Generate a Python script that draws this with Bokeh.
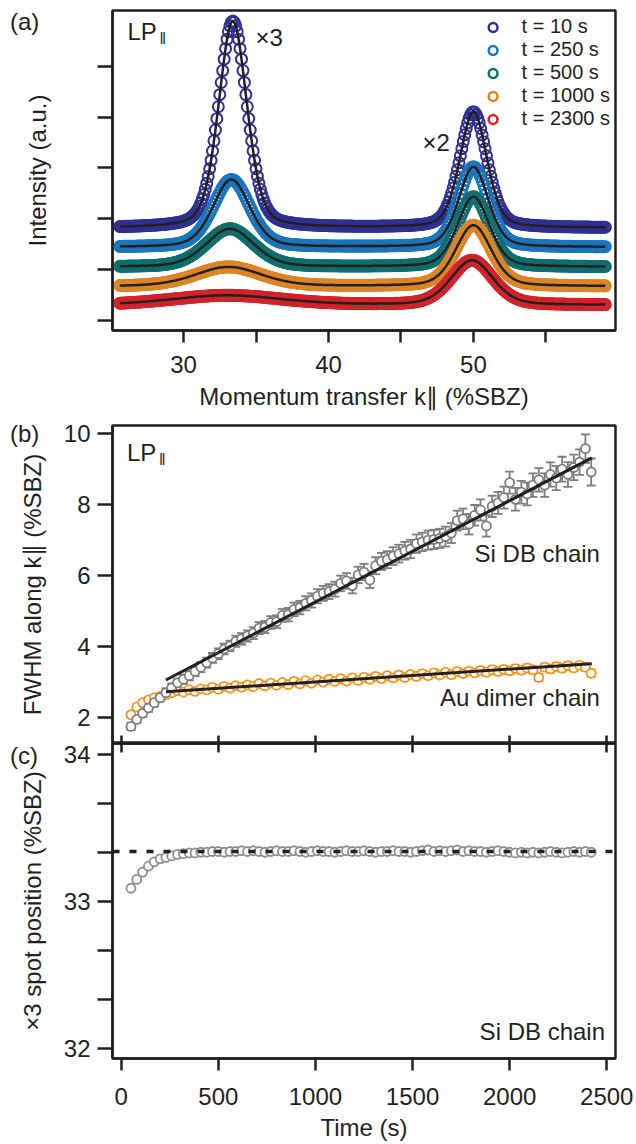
import numpy as np
from bokeh.plotting import figure
from bokeh.models import (ColumnDataSource, FixedTicker, LinearAxis, Label, Legend, LegendItem,
                          Span, Whisker, TeeHead, Range1d, Div)
from bokeh.layouts import column
from bokeh.embed import file_html
from bokeh.resources import INLINE
from bokeh.core.properties import value

FONT = "Liberation Sans"
INK = "#231f20"

# ---------------- panel (a): LEED line profiles (fit parameters)
labels_a = ["t = 10 s", "t = 250 s", "t = 500 s", "t = 1000 s", "t = 2300 s"]
colors_a = ["#2e3192", "#1b75bb", "#0e6e6e", "#dc8524", "#d2232a"]
baseline_a = [1.82, 1.44, 1.05, 0.67, 0.30]
x3_center = [33.4, 33.3, 33.2, 33.1, 33.0]
x3_amp = [4.07, 1.33, 0.75, 0.38, 0.19]
x3_fwhm = [2.3, 3.0, 3.9, 5.4, 9.0]
x2_center = [50.0, 50.0, 50.0, 50.0, 49.9]
x2_amp = [2.28, 1.58, 1.38, 1.20, 0.88]
x2_fwhm = [2.2, 2.4, 2.6, 2.9, 3.4]
k_first, k_last, k_step = 25.6, 59.1, 0.1
a_xticks = [30, 40, 50]
a_xminor = [35, 45, 55]
a_yticks = [0, 1, 2, 3, 4, 5]

# ---------------- panel (b): FWHM vs time
t_b = list(range(50, 2421, 30))
si_fwhm = [1.75, 1.95, 2.12, 2.27, 2.42, 2.56, 2.70, 2.84, 2.98, 3.08,
           3.18, 3.30, 3.42, 3.55, 3.68, 3.80, 3.93, 4.02, 4.15, 4.22,
           4.30, 4.38, 4.52, 4.55, 4.68, 4.70, 4.88, 4.90, 5.05, 5.10,
           5.22, 5.30, 5.42, 5.50, 5.55, 5.62, 5.78, 5.85, 5.72, 6.02,
           6.10, 5.88, 6.28, 6.40, 6.45, 6.55, 6.62, 6.70, 6.75, 6.90,
           6.95, 7.00, 7.02, 7.05, 7.10, 7.20, 7.55, 7.60, 7.45, 7.70,
           7.85, 7.40, 7.95, 8.05, 8.20, 8.62, 8.15, 8.35, 8.30, 8.55,
           8.70, 8.55, 8.85, 8.75, 9.00, 8.85, 9.05, 9.20, 9.58, 8.92]
si_err = [0.10, 0.10, 0.10, 0.11, 0.11, 0.11, 0.12, 0.12, 0.12, 0.13,
          0.13, 0.13, 0.14, 0.14, 0.14, 0.15, 0.15, 0.15, 0.16, 0.16,
          0.16, 0.17, 0.17, 0.17, 0.18, 0.18, 0.18, 0.19, 0.19, 0.19,
          0.20, 0.20, 0.20, 0.21, 0.21, 0.21, 0.22, 0.22, 0.22, 0.23,
          0.23, 0.23, 0.24, 0.24, 0.24, 0.25, 0.25, 0.25, 0.26, 0.26,
          0.26, 0.27, 0.27, 0.27, 0.28, 0.28, 0.28, 0.29, 0.29, 0.29,
          0.30, 0.30, 0.30, 0.31, 0.31, 0.31, 0.32, 0.32, 0.32, 0.33,
          0.33, 0.33, 0.34, 0.34, 0.35, 0.35, 0.36, 0.36, 0.40, 0.38]
au_fwhm = [2.08, 2.30, 2.42, 2.50, 2.56, 2.60, 2.64, 2.70, 2.76, 2.72,
           2.79, 2.74, 2.81, 2.78, 2.85, 2.80, 2.88, 2.83, 2.90, 2.86,
           2.92, 2.87, 2.96, 2.89, 2.97, 2.91, 2.99, 2.93, 3.02, 2.95,
           3.04, 2.97, 3.06, 3.00, 3.08, 3.02, 3.10, 3.03, 3.12, 3.05,
           3.14, 3.08, 3.16, 3.10, 3.18, 3.12, 3.20, 3.13, 3.22, 3.16,
           3.24, 3.18, 3.26, 3.20, 3.28, 3.21, 3.30, 3.24, 3.31, 3.26,
           3.33, 3.28, 3.35, 3.30, 3.36, 3.32, 3.38, 3.34, 3.40, 3.35,
           3.13, 3.42, 3.37, 3.44, 3.39, 3.46, 3.40, 3.47, 3.42, 3.25]
au_err = [0.08, 0.08, 0.07, 0.07, 0.07, 0.07, 0.07, 0.07, 0.07, 0.07,
          0.07, 0.07, 0.07, 0.07, 0.08, 0.08, 0.08, 0.08, 0.08, 0.08,
          0.08, 0.08, 0.08, 0.08, 0.08, 0.08, 0.08, 0.08, 0.08, 0.08,
          0.08, 0.08, 0.08, 0.08, 0.08, 0.08, 0.09, 0.09, 0.09, 0.09,
          0.09, 0.09, 0.09, 0.09, 0.09, 0.09, 0.09, 0.09, 0.09, 0.09,
          0.09, 0.09, 0.09, 0.09, 0.09, 0.09, 0.09, 0.09, 0.09, 0.09,
          0.10, 0.10, 0.10, 0.10, 0.10, 0.10, 0.10, 0.10, 0.10, 0.10,
          0.10, 0.10, 0.10, 0.10, 0.10, 0.10, 0.10, 0.10, 0.10, 0.10]
si_fit_t = [230, 2423]
si_fit_y = [3.06, 9.32]
au_fit_t = [230, 2423]
au_fit_y = [2.73, 3.52]
time_ticks = [0, 500, 1000, 1500, 2000, 2500]
b_yticks = [2, 4, 6, 8, 10]

# ---------------- panel (c): x3 spot position vs time
spot_pos = [33.09, 33.15, 33.20, 33.24, 33.27, 33.29, 33.30, 33.31, 33.32, 33.325,
            33.33, 33.33, 33.335, 33.335, 33.34, 33.34, 33.335, 33.34, 33.34, 33.345,
            33.34, 33.345, 33.34, 33.335, 33.34, 33.345, 33.34, 33.34, 33.345, 33.34,
            33.335, 33.34, 33.345, 33.34, 33.34, 33.335, 33.34, 33.345, 33.34, 33.34,
            33.345, 33.34, 33.335, 33.34, 33.34, 33.345, 33.34, 33.34, 33.335, 33.34,
            33.345, 33.35, 33.34, 33.345, 33.34, 33.345, 33.35, 33.34, 33.345, 33.34,
            33.34, 33.335, 33.34, 33.345, 33.34, 33.335, 33.33, 33.335, 33.33, 33.335,
            33.33, 33.335, 33.34, 33.335, 33.33, 33.335, 33.34, 33.335, 33.34, 33.335]
spot_ref = 33.34
c_yticks = [32, 33, 34]
c_yminor = [32 + 1 / 3, 32 + 2 / 3, 33 + 1 / 3, 33 + 2 / 3]

panel_letters = ["(a)", "(b)", "(c)"]


def style_axis(ax, tick_out, tick_in=0, label_size="24px", standoff=7):
    ax.axis_line_color = INK
    ax.axis_line_width = 2.5
    ax.major_tick_line_color = INK
    ax.major_tick_line_width = 2.5
    ax.minor_tick_line_color = INK
    ax.minor_tick_line_width = 2.5
    ax.major_tick_out = tick_out
    ax.major_tick_in = tick_in
    ax.minor_tick_out = tick_out
    ax.minor_tick_in = tick_in
    ax.major_label_text_font = FONT
    ax.major_label_text_font_size = label_size
    ax.major_label_text_color = INK
    ax.major_label_standoff = standoff
    ax.axis_label_text_font = FONT
    ax.axis_label_text_font_size = "24px"
    ax.axis_label_text_font_style = "normal"
    ax.axis_label_text_color = INK


def base_fig(h, xr, yr, top, bottom):
    p = figure(width=636, height=h, x_range=xr, y_range=yr,
               min_border_left=112, min_border_right=21,
               min_border_top=top, min_border_bottom=bottom,
               toolbar_location=None, output_backend="svg")
    p.xgrid.visible = False
    p.ygrid.visible = False
    p.outline_line_color = INK
    p.outline_line_width = 2.5
    p.background_fill_color = "white"
    p.border_fill_color = "white"
    return p


def txt(p, x, y, s, size="24px", align="left"):
    p.add_layout(Label(x=x, y=y, text=s, text_font=FONT, text_font_size=size,
                       text_color=INK, text_align=align, text_baseline="middle"))


def letter_div(s, left, top):
    html = ('<span style="font-family:\'Liberation Sans\';font-size:24px;'
            'line-height:24px;color:%s;white-space:nowrap">%s</span>' % (INK, s))
    return Div(text=html, width=40, height=26, margin=0,
               styles={"position": "absolute", "left": "%dpx" % left,
                       "top": "%dpx" % top, "z-index": "10"})


def pvoigt(x, c, w, eta=0.3):
    d = (x - c) / w
    return eta / (1 + 4 * d * d) + (1 - eta) * np.exp(-4 * np.log(2) * d * d)


# ======================= panel (a)
pa = base_fig(415, Range1d(25.1, 59.8), Range1d(-0.2, 6.1), 10, 85)
ax = pa.xaxis[0]
ax.ticker = FixedTicker(ticks=a_xticks, minor_ticks=a_xminor)
style_axis(ax, 12, standoff=13)
ax.axis_label = "Momentum transfer k\u2225 (%SBZ)"
ax.axis_label_standoff = 7
ay = pa.yaxis[0]
ay.ticker = FixedTicker(ticks=a_yticks, minor_ticks=[])
style_axis(ay, 15, label_size="0px", standoff=0)
ay.major_label_text_alpha = 0
ay.axis_label = "Intensity (a.u.)"
ay.axis_label_standoff = 47

k_meas = np.arange(k_first, k_last + 1e-9, k_step)
k_fit = np.linspace(k_first, k_last, 700)
fits = []
for i in range(len(labels_a)):
    def model(x, i=i):
        return (baseline_a[i] + x3_amp[i] * pvoigt(x, x3_center[i], x3_fwhm[i])
                + x2_amp[i] * pvoigt(x, x2_center[i], x2_fwhm[i]))
    pa.scatter(k_meas, model(k_meas), marker="circle", size=11, line_width=2,
               line_color=colors_a[i], fill_color=None)
    fits.append(model(k_fit))
for f in fits:
    pa.line(k_fit, f, line_color=INK, line_width=2.5)

items = []
for i in range(len(labels_a)):
    r = pa.scatter(x=np.array([np.nan]), y=np.array([np.nan]), marker="circle", size=13,
                   line_width=2.5, line_color=colors_a[i], fill_color=None)
    items.append(LegendItem(label=value(labels_a[i]), renderers=[r]))
leg = Legend(items=items, location="top_right", margin=5, padding=0, spacing=0,
             glyph_width=22, glyph_height=22, label_height=22, label_width=88,
             label_standoff=18, label_text_font=FONT, label_text_font_size="20px",
             label_text_color=INK, background_fill_alpha=0, border_line_alpha=0)
pa.add_layout(leg)

txt(pa, 26.13, 5.69, "LP")
txt(pa, 28.34, 5.55, "\u2016", size="16px")
txt(pa, 34.96, 5.57, "\u00d73")
txt(pa, 46.48, 3.50, "\u00d72")

# ======================= panel (b)
pb = base_fig(328, Range1d(-45, 2545), Range1d(1.27, 10.23), 10, 0)
bx = pb.xaxis[0]
bx.ticker = FixedTicker(ticks=time_ticks, minor_ticks=[])
style_axis(bx, 0, tick_in=8, label_size="0px", standoff=0)
bx.major_label_text_alpha = 0
by = pb.yaxis[0]
by.ticker = FixedTicker(ticks=b_yticks, minor_ticks=[])
style_axis(by, 15, standoff=7)
by.axis_label = "FWHM along k\u2225 (%SBZ)"
by.axis_label_standoff = 15

GRAY = "#7d7d7d"
ORANGE = "#f7941d"
au_src = ColumnDataSource(dict(t=t_b, y=au_fwhm,
                               lo=np.array(au_fwhm) - np.array(au_err),
                               hi=np.array(au_fwhm) + np.array(au_err)))
si_src = ColumnDataSource(dict(t=t_b, y=si_fwhm,
                               lo=np.array(si_fwhm) - np.array(si_err),
                               hi=np.array(si_fwhm) + np.array(si_err)))
for src, col in ((au_src, ORANGE), (si_src, GRAY)):
    w = Whisker(source=src, base="t", upper="hi", lower="lo", line_color=col, line_width=1.8,
                upper_head=TeeHead(size=9, line_color=col, line_width=1.8),
                lower_head=TeeHead(size=9, line_color=col, line_width=1.8),
                level="underlay")
    pb.add_layout(w)
pb.scatter("t", "y", source=au_src, marker="circle", size=9, line_width=1.8,
           line_color=ORANGE, fill_color="white")
pb.scatter("t", "y", source=si_src, marker="circle", size=9, line_width=1.8,
           line_color=GRAY, fill_color="white")
pb.line(si_fit_t, si_fit_y, line_color=INK, line_width=3)
pb.line(au_fit_t, au_fit_y, line_color=INK, line_width=3)

txt(pb, 29.7, 9.47, "LP")
txt(pb, 194.4, 9.27, "\u2016", size="16px")
txt(pb, 2465, 6.62, "Si DB chain", align="right")
txt(pb, 2465, 2.57, "Au dimer chain", align="right")

# ======================= panel (c)
pc = base_fig(406, Range1d(-45, 2545), Range1d(31.933, 34.074), 6, 78)
pc.margin = (-6, 0, 0, 0)
pc.border_fill_color = None
cx = pc.xaxis[0]
cx.ticker = FixedTicker(ticks=time_ticks, minor_ticks=[])
style_axis(cx, 12, standoff=17)
cx.axis_label = "Time (s)"
cx.axis_label_standoff = 6
top_ax = LinearAxis(ticker=FixedTicker(ticks=time_ticks, minor_ticks=[]))
style_axis(top_ax, 0, tick_in=9, label_size="0px", standoff=0)
top_ax.major_label_text_alpha = 0
pc.add_layout(top_ax, "above")
cy = pc.yaxis[0]
cy.ticker = FixedTicker(ticks=c_yticks, minor_ticks=c_yminor)
style_axis(cy, 15, standoff=7)
cy.axis_label = "\u00d73 spot position (%SBZ)"
cy.axis_label_standoff = 15

pc.scatter(t_b, spot_pos, marker="circle", size=9, line_width=1.8,
           line_color="#8e8e8e", fill_color="white")
pc.add_layout(Span(location=spot_ref, dimension="width", line_color=INK,
                   line_width=3.5, line_dash="7 10"))

txt(pc, 2491, 32.114, "Si DB chain", align="right")

divs = [letter_div(panel_letters[0], 10, 10),
        letter_div(panel_letters[1], 10, 422),
        letter_div(panel_letters[2], 10, 744)]

layout = column(pa, pb, pc, *divs)
open("out.html", "w").write(file_html(layout, INLINE))
